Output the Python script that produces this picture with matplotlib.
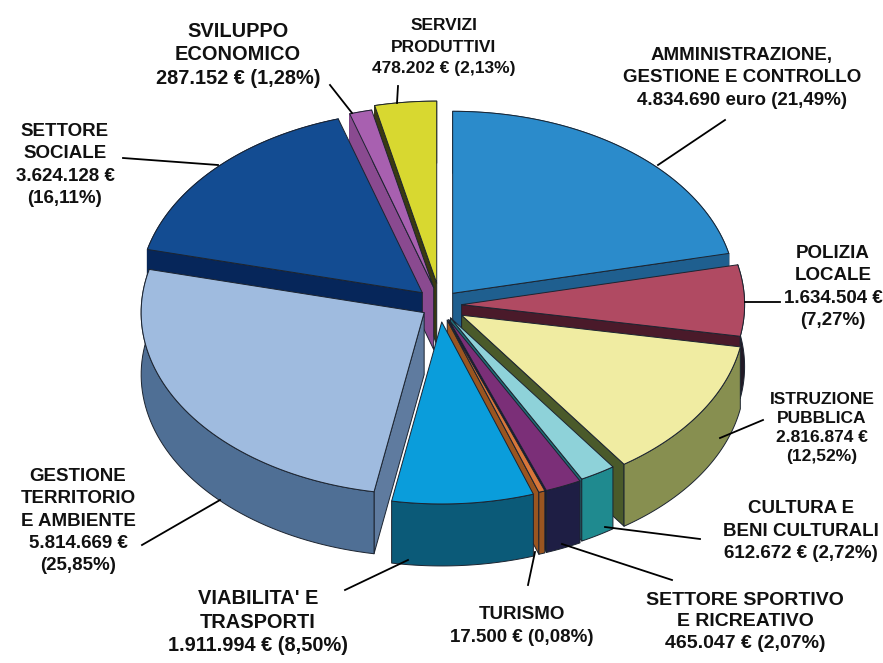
import numpy as np
import matplotlib
matplotlib.use("Agg")
import matplotlib.pyplot as plt
from matplotlib.patches import Polygon

plt.rcParams['font.family'] = ['Liberation Sans', 'DejaVu Sans']

######### data, clockwise from 12 o'clock
names = ['amministrazione', 'polizia', 'istruzione', 'cultura', 'sportivo', 'turismo',
         'viabilita', 'gestione', 'sociale', 'sviluppo', 'servizi']
shares = [21.49, 7.27, 12.52, 2.72, 2.07, 0.08, 8.50, 25.85, 16.11, 1.28, 2.13]

labels = ["AMMINISTRAZIONE,\nGESTIONE E CONTROLLO\n4.834.690 euro (21,49%)",
          "POLIZIA\nLOCALE\n1.634.504 €\n(7,27%)",
          "ISTRUZIONE\nPUBBLICA\n2.816.874 €\n(12,52%)",
          "CULTURA E\nBENI CULTURALI\n612.672 € (2,72%)",
          "SETTORE SPORTIVO\nE RICREATIVO\n465.047 € (2,07%)",
          "TURISMO\n17.500 € (0,08%)",
          "VIABILITA' E\nTRASPORTI\n1.911.994 € (8,50%)",
          "GESTIONE\nTERRITORIO\nE AMBIENTE\n5.814.669 €\n(25,85%)",
          "SETTORE\nSOCIALE\n3.624.128 €\n(16,11%)",
          "SVILUPPO\nECONOMICO\n287.152 € (1,28%)",
          "SERVIZI\nPRODUTTIVI\n478.202 € (2,13%)"]

######### look of each slice
top_col = ['#2b8bcb', '#b04a62', '#f0eca2', '#8ed2d9', '#7b2f78', '#d8763a',
           '#0a9ddb', '#9fbbdf', '#134c92', '#a860b0', '#d8d830']
rim_col = ['#1f5f8f', '#221a26', '#878f50', '#1f8a8f', '#1e1e44', '#9a5520',
           '#0b5a78', '#4f6f95', '#06265a', '#8a4a90', '#3a3a10']
cut_col = ['#1f5f8f', '#4a1a2a', '#4a5a2a', '#1f6f78', '#15153a', '#9a5520',
           '#0b5a78', '#5f7b9f', '#06265a', '#8a4a90', '#3a3a10']
explode = [15, 16, 19, 15, 16, 16, 17, 14, 18, 18, 22]
# the original 3D pie is not quite proportional, boundaries are a few degrees off
nudge = [0, 0, -3.5, -3.6, -6, -6, -5, -6.5, -6, -5, -5, 0]
draw_order = [0, 10, 9, 8, 1, 7, 2, 3, 4, 5, 6]

cx, cy = 440, 305
rx, ry = 283, 182
depth = 62
stretch = 1.35   # explode goes further sideways than up and down

fontsizes = [13.5, 13.5, 12.5, 13.5, 14, 13.5, 14.4, 13.5, 13.5, 14.4, 12.5]
spacing = [1.42, 1.42, 1.31, 1.42, 1.37, 1.42, 1.33, 1.42, 1.42, 1.33, 1.5]
text_pos = [(742, 78), (833, 287), (822, 428), (801, 531), (745, 622), (522, 626),
            (258, 622), (78, 521), (65, 165), (238, 55), (444, 47)]
leaders = [((725, 120), (658, 165)), ((780, 302), (745, 302)), ((763, 420), (720, 438)),
           ((700, 539), (605, 527)), ((672, 580), (562, 544)), ((528, 585), (535, 552)),
           ((345, 590), (408, 560)), ((142, 545), (220, 500)), ((123, 158), (218, 165)),
           ((330, 85), (352, 113)), ((398, 86), (397, 103))]

edges = np.concatenate([[0], np.cumsum(shares)]) / sum(shares) * 360 + np.array(nudge)

fig = plt.figure(figsize=(8.83, 6.63), dpi=100)
ax = fig.add_axes([0, 0, 1, 1])
ax.set_xlim(0, 883)
ax.set_ylim(663, 0)
ax.axis('off')


def ring(ang, x0, y0):
    a = np.radians(ang)
    return np.column_stack([x0 + rx*np.sin(a), y0 - ry*np.cos(a)])


def face(pts, col, z, edge='#1c2430'):
    ax.add_patch(Polygon(pts, closed=True, facecolor=col, edgecolor=edge,
                         linewidth=0.7, joinstyle='round', zorder=z))


z = 2
for i in draw_order:
    a0, a1 = edges[i], edges[i+1]
    mid = np.radians((a0 + a1) / 2)
    x0 = cx + stretch*explode[i]*np.sin(mid)
    y0 = cy - explode[i]*np.cos(mid)
    arc = ring(np.linspace(a0, a1, 60), x0, y0)
    low = arc + [0, depth]
    apex = np.array([x0, y0])
    # only cut faces that look towards the viewer, then rim, then the top
    if np.sin(np.radians(a0)) < -1e-6:
        p = arc[0]
        face([apex, p, p + [0, depth], apex + [0, depth]], cut_col[i], z)
    if np.sin(np.radians(a1)) > 1e-6:
        p = arc[-1]
        face([apex, p, p + [0, depth], apex + [0, depth]], cut_col[i], z)
    # back slices: no outline on the rim, it would show as a seam on the cut face
    back = a1 < 90 or a0 > 270
    face(np.vstack([arc, low[::-1]]), rim_col[i], z + 0.1, rim_col[i] if back else '#1c2430')
    face(np.vstack([[apex], arc]), top_col[i], z + 0.2)
    z += 1

for i in range(len(labels)):
    ax.text(text_pos[i][0], text_pos[i][1], labels[i], ha='center', va='center',
            fontsize=fontsizes[i], fontweight='bold', color='#111111',
            linespacing=spacing[i], zorder=30)
    (x1, y1), (x2, y2) = leaders[i]
    ax.plot([x1, x2], [y1, y2], color='black', lw=1.3, zorder=29)

fig.savefig('out.png', dpi=100, facecolor='white')
